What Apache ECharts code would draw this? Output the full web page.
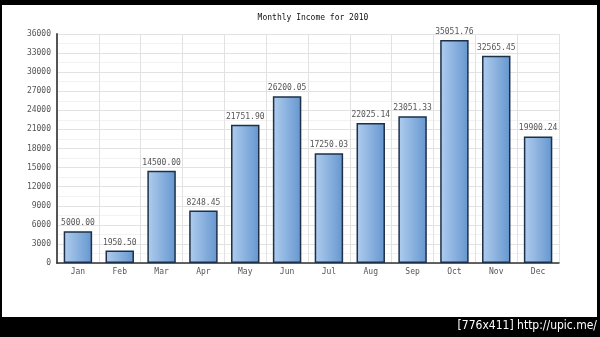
<!DOCTYPE html>
<html>
<head>
<meta charset="utf-8">
<script src="https://cdn.jsdelivr.net/npm/echarts@6/dist/echarts.min.js"></script>
<style>
  html, body { margin: 0; padding: 0; background: #000; }
  #chart { width: 600px; height: 337px; }
</style>
</head>
<body>
<div id="chart"></div>
<script>
// Monthly income figures for 2010
const months = ['Jan', 'Feb', 'Mar', 'Apr', 'May', 'Jun', 'Jul', 'Aug', 'Sep', 'Oct', 'Nov', 'Dec'];
const income = [5000.00, 1950.50, 14500.00, 8248.45, 21751.90, 26200.05, 17250.03, 22025.14, 23051.33, 35051.76, 32565.45, 19900.24];
const yTicks = { min: 0, max: 36000, step: 3000 };
const titleText = 'Monthly Income for 2010';
const footerText = '[776x411] http://upic.me/';

const mono = 'DejaVu Sans Mono';
const chart = echarts.init(document.getElementById('chart'), null, { renderer: 'canvas' });

chart.setOption({
  backgroundColor: '#000',
  animation: false,
  graphic: [
    { type: 'rect', z: -10, silent: true, shape: { x: 2, y: 5, width: 595, height: 312 }, style: { fill: '#fff' } },
    { type: 'text', z: 10, right: 3, top: 320, silent: true,
      style: { text: footerText, fill: '#fff', font: '12px "DejaVu Sans Condensed", "DejaVu Sans"', textAlign: 'right' } }
  ],
  title: {
    text: titleText,
    left: 308,
    textAlign: 'center',
    top: 9,
    textStyle: { fontFamily: mono, fontSize: 8, fontWeight: 'normal', color: '#111' }
  },
  grid: { left: 57, right: 41, top: 34, bottom: 74 },
  xAxis: {
    type: 'category',
    data: months,
    axisLine: { lineStyle: { color: '#333', width: 1.5 } },
    axisTick: { show: false },
    axisLabel: { fontFamily: mono, fontSize: 8, color: '#555', margin: 5 },
    splitLine: { show: true, lineStyle: { color: '#e2e2e2', width: 1 } }
  },
  yAxis: {
    type: 'value',
    min: yTicks.min,
    max: yTicks.max,
    interval: yTicks.step,
    axisLine: { show: true, lineStyle: { color: '#555', width: 2 } },
    axisTick: { show: false },
    axisLabel: { fontFamily: mono, fontSize: 8, color: '#555', margin: 6, formatter: v => String(v) },
    splitLine: { lineStyle: { color: '#e2e2e2', width: 1 } },
    minorTick: { show: false, splitNumber: 2 },
    minorSplitLine: { show: true, lineStyle: { color: '#f2f2f2', width: 1 } }
  },
  series: [{
    type: 'bar',
    data: income,
    barCategoryGap: '32%',
    itemStyle: {
      borderColor: '#1d3047',
      borderWidth: 1.5,
      color: new echarts.graphic.LinearGradient(0, 0, 1, 0, [
        { offset: 0, color: '#b0cdee' },
        { offset: 1, color: '#6596cf' }
      ])
    },
    label: {
      show: true,
      position: 'top',
      distance: 4,
      fontFamily: mono,
      fontSize: 8,
      color: '#555',
      formatter: p => p.value.toFixed(2)
    }
  }]
});
</script>
</body>
</html>
